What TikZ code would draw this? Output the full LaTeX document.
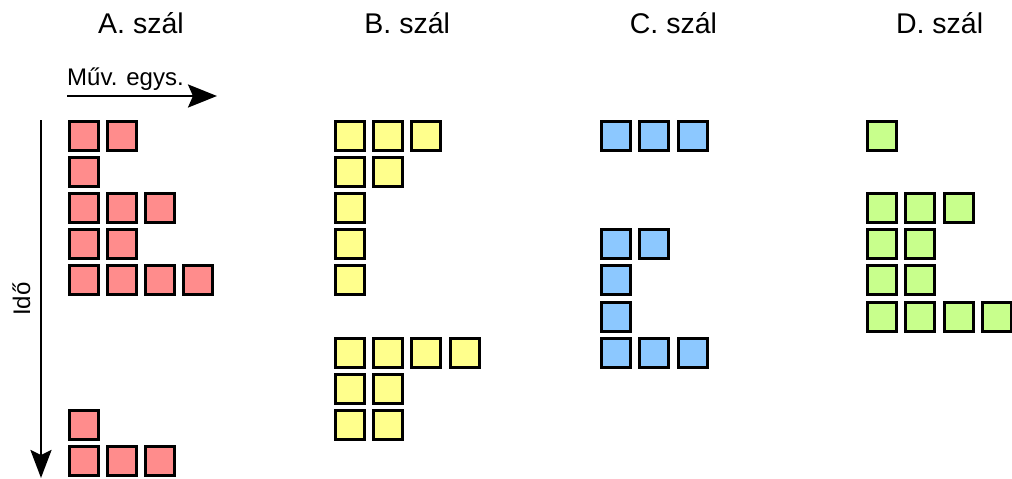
\documentclass[tikz,border=0pt]{standalone}
\usepackage{fontspec}
\setmainfont{Liberation Sans}
\usepackage{tikz}
\usetikzlibrary{arrows.meta}
\definecolor{threadA}{HTML}{FF8C8C}
\definecolor{threadB}{HTML}{FFFF8C}
\definecolor{threadC}{HTML}{8CC8FF}
\definecolor{threadD}{HTML}{C8FF8C}
\tikzset{
  cell/.style ={draw=black, line width=3pt, minimum size=29pt, inner sep=0pt},
  ttl/.style  ={font=\fontsize{28.5}{30}\selectfont, inner sep=0pt},
  lbl/.style  ={font=\fontsize{24}{26}\selectfont, inner sep=0pt},
  haxis/.style={draw=black, line width=2.7pt, -{Stealth[length=29pt,width=23pt,inset=5pt]}},
  vaxis/.style={draw=black, line width=2.7pt, -{Stealth[length=28pt,width=21pt,inset=5pt]}},
}

\begin{document}
\begin{tikzpicture}[x=1pt,y=-1pt]
  \useasboundingbox (0,0) rectangle (1012,479);
  \def\dx{38.3}
  \def\dy{36.1}
  \def\dt{266.2}
  \foreach \t/\L in {0/A,1/B,2/C,3/D}
    \node[ttl,anchor=base] (ttl\L) at ({141+\t*\dt},33) {\L. szál};
  % axes
  \coordinate (ops0) at (67,96);
  \coordinate (ops1) at (217,96);
  \draw[haxis] (ops0) -- (ops1);
  \node[lbl,anchor=base west] (opslbl) at (67,85) {Műv. egys.};
  \coordinate (time0) at (41,120);
  \coordinate (time1) at (41,478);
  \draw[vaxis] (time0) -- (time1);
  \node[lbl,anchor=base,rotate=90] (timelbl) at (30,299) {Idő};
  % thread A
  \foreach \r/\n in {0/2,1/1,2/3,3/2,4/4,8/1,9/3}
    \foreach \c in {1,...,\n}
      \node[cell,fill=threadA] (a\r\c) at ({83.5+(\c-1)*\dx},{136+\r*\dy}) {};
  % thread B
  \foreach \r/\n in {0/3,1/2,2/1,3/1,4/1,6/4,7/2,8/2}
    \foreach \c in {1,...,\n}
      \node[cell,fill=threadB] (b\r\c) at ({83.5+\dt+(\c-1)*\dx},{136+\r*\dy}) {};
  % thread C
  \foreach \r/\n in {0/3,3/2,4/1,5/1,6/3}
    \foreach \c in {1,...,\n}
      \node[cell,fill=threadC] (c\r\c) at ({83.5+2*\dt+(\c-1)*\dx},{136+\r*\dy}) {};
  % thread D
  \foreach \r/\n in {0/1,2/3,3/2,4/2,5/4}
    \foreach \c in {1,...,\n}
      \node[cell,fill=threadD] (d\r\c) at ({83.5+3*\dt+(\c-1)*\dx},{136+\r*\dy}) {};
\end{tikzpicture}
\end{document}
